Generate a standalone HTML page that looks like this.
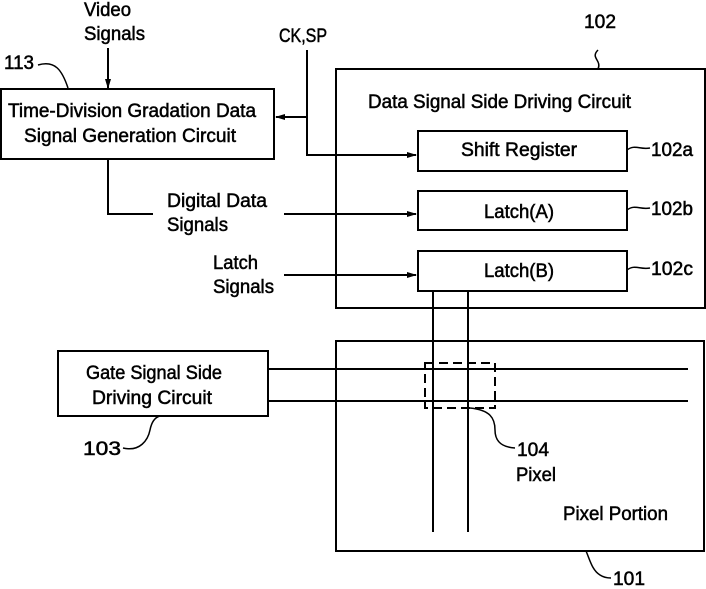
<!DOCTYPE html>
<html><head><meta charset="utf-8"><style>html,body{margin:0;padding:0;background:#fff}svg{display:block}text{font-family:"Liberation Sans",sans-serif;font-size:19px;fill:#000;stroke:#000;stroke-width:0.5}</style></head>
<body>
<svg width="706" height="589" viewBox="0 0 706 589" xmlns="http://www.w3.org/2000/svg">
<defs><marker id="a" markerWidth="10" markerHeight="8" refX="9" refY="4" orient="auto" markerUnits="userSpaceOnUse"><path d="M0,1 L10,4 L0,7 z" fill="#000"/></marker></defs>
<g fill="none" stroke="#000" stroke-width="2">
<rect x="1" y="89" width="273" height="70"/>
<rect x="336" y="69" width="369" height="239"/>
<rect x="418" y="131" width="209" height="40"/>
<rect x="418" y="191" width="209" height="39"/>
<rect x="418" y="251" width="209" height="40"/>
<rect x="336" y="341" width="368" height="210"/>
<rect x="58" y="351" width="210" height="65"/>
<line x1="108" y1="48" x2="108" y2="88" marker-end="url(#a)"/>
<polyline points="307,50 307,155 416,155" marker-end="url(#a)"/>
<line x1="307" y1="117" x2="276" y2="117" marker-end="url(#a)"/>
<polyline points="108,159 108,214 153,214"/>
<line x1="284" y1="214" x2="416" y2="214" marker-end="url(#a)"/>
<line x1="284" y1="275" x2="416" y2="275" marker-end="url(#a)"/>
<line x1="433" y1="291" x2="433" y2="532"/>
<line x1="468" y1="291" x2="468" y2="532"/>
<line x1="268" y1="369" x2="688" y2="369"/>
<line x1="268" y1="401" x2="688" y2="401"/>
<rect x="425" y="363" width="70" height="45" stroke-dasharray="9,5"/>
<path d="M38,65 C55,60 62,70 68,88" stroke-width="1.5"/>
<path d="M598,50 C590,58 602,60 598,69" stroke-width="1.5"/>
<path d="M627,150 C635,144 640,150 650,148" stroke-width="1.5"/>
<path d="M627,210 C635,204 640,210 650,208" stroke-width="1.5"/>
<path d="M627,270 C635,264 640,270 650,268" stroke-width="1.5"/>
<path d="M123,448 C140,452 148,440 150,430 C152,420 156,417 160,416" stroke-width="1.5"/>
<path d="M470,408 C490,410 495,418 495,430 C495,440 500,447 515,448" stroke-width="1.5"/>
<path d="M586,551 C590,560 592,570 600,575 C603,577 606,578 611,578" stroke-width="1.5"/>
</g>
<text x="84" y="16" textLength="47" lengthAdjust="spacingAndGlyphs">Video</text>
<text x="84" y="40" textLength="61" lengthAdjust="spacingAndGlyphs">Signals</text>
<text x="4" y="69" textLength="30" lengthAdjust="spacingAndGlyphs">113</text>
<text x="279" y="42" textLength="48" lengthAdjust="spacingAndGlyphs">CK,SP</text>
<text x="584" y="28" textLength="32" lengthAdjust="spacingAndGlyphs">102</text>
<text x="8" y="117" textLength="248" lengthAdjust="spacingAndGlyphs">Time-Division Gradation Data</text>
<text x="24" y="142" textLength="212" lengthAdjust="spacingAndGlyphs">Signal Generation Circuit</text>
<text x="368" y="108" textLength="263" lengthAdjust="spacingAndGlyphs">Data Signal Side Driving Circuit</text>
<text x="461" y="156" textLength="116" lengthAdjust="spacingAndGlyphs">Shift Register</text>
<text x="484" y="218" textLength="70" lengthAdjust="spacingAndGlyphs">Latch(A)</text>
<text x="484" y="277" textLength="70" lengthAdjust="spacingAndGlyphs">Latch(B)</text>
<text x="651" y="156" textLength="42" lengthAdjust="spacingAndGlyphs">102a</text>
<text x="651" y="215" textLength="42" lengthAdjust="spacingAndGlyphs">102b</text>
<text x="651" y="275" textLength="42" lengthAdjust="spacingAndGlyphs">102c</text>
<text x="167" y="207" textLength="100" lengthAdjust="spacingAndGlyphs">Digital Data</text>
<text x="167" y="231" textLength="61" lengthAdjust="spacingAndGlyphs">Signals</text>
<text x="213" y="269" textLength="45" lengthAdjust="spacingAndGlyphs">Latch</text>
<text x="213" y="293" textLength="61" lengthAdjust="spacingAndGlyphs">Signals</text>
<text x="86" y="379" textLength="136" lengthAdjust="spacingAndGlyphs">Gate Signal Side</text>
<text x="92" y="404" textLength="120" lengthAdjust="spacingAndGlyphs">Driving Circuit</text>
<text x="83" y="455" textLength="38" lengthAdjust="spacingAndGlyphs">103</text>
<text x="517" y="456" textLength="32" lengthAdjust="spacingAndGlyphs">104</text>
<text x="516" y="481" textLength="40" lengthAdjust="spacingAndGlyphs">Pixel</text>
<text x="563" y="520" textLength="105" lengthAdjust="spacingAndGlyphs">Pixel Portion</text>
<text x="613" y="585" textLength="32" lengthAdjust="spacingAndGlyphs">101</text>
</svg>
</body></html>
